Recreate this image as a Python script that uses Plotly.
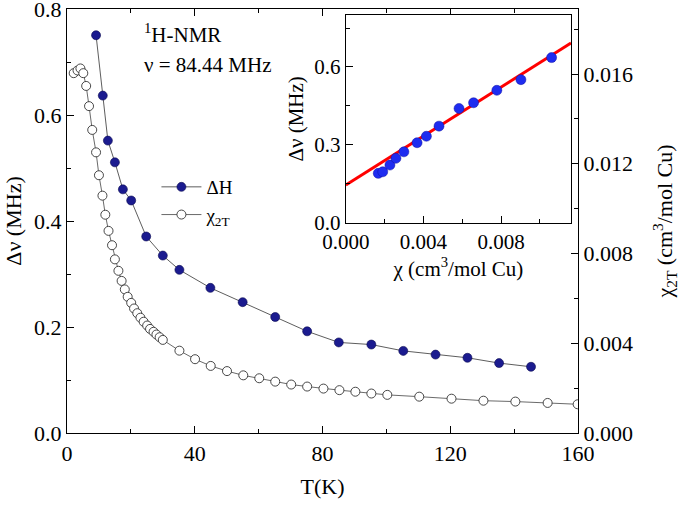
import plotly.graph_objects as go

# Main panel: linewidth ΔH vs T
T_dH = [9.1, 11.2, 12.8, 15.0, 17.5, 20.1, 24.8, 30.0, 35.2, 44.9, 55.0, 65.2, 75.2,
        85.1, 95.3, 105.3, 115.4, 125.4, 135.3, 145.3]
dH = [0.751, 0.637, 0.552, 0.511, 0.460, 0.439, 0.371, 0.335, 0.308, 0.274, 0.247,
      0.219, 0.192, 0.171, 0.167, 0.155, 0.148, 0.142, 0.132, 0.125]

# Main panel: susceptibility chi_2T vs T (right axis)
T_chi = [2.1, 3.3, 4.2, 5.1, 6.0, 6.9, 7.9, 9.1, 10.0, 11.1, 12.0, 13.0, 14.1, 15.0,
         16.1, 17.1, 18.1, 19.0, 20.1, 21.0, 22.0, 23.0, 24.0, 25.1, 26.0, 27.1, 28.0,
         29.0, 30.0, 35.2, 40.1, 45.0, 50.1, 55.2, 60.2, 65.2, 70.2, 75.2, 80.3, 85.3,
         90.3, 95.3, 100.3, 110.3, 120.4, 130.4, 140.4, 150.5, 159.9]
chi = [0.01604, 0.01616, 0.01625, 0.01604, 0.01547, 0.01457, 0.01351, 0.01251, 0.01149,
       0.01058, 0.00973, 0.00901, 0.00837, 0.00774, 0.00723, 0.00678, 0.00640, 0.00607,
       0.00580, 0.00555, 0.00534, 0.00514, 0.00496, 0.00479, 0.00464, 0.00451, 0.00439,
       0.00427, 0.00415, 0.00367, 0.00329, 0.00299, 0.00276, 0.00257, 0.00244, 0.00229,
       0.00216, 0.00207, 0.00198, 0.00191, 0.00184, 0.00176, 0.00170, 0.00162, 0.00153,
       0.00144, 0.00140, 0.00134, 0.00128]

# Inset: Δν vs χ
inset_chi = [0.00167, 0.0019, 0.00227, 0.00258, 0.00299, 0.00367, 0.00415, 0.0048,
             0.00583, 0.00658, 0.00778, 0.00902, 0.0106]
inset_dnu = [0.190, 0.196, 0.222, 0.248, 0.273, 0.308, 0.333, 0.372, 0.440, 0.462,
             0.510, 0.551, 0.636]
fit_chi = [0.0, 0.0116]
fit_dnu = [0.145, 0.692]

FONT = "Liberation Serif"
navy = "#1b1b8f"

fig = go.Figure()

fig.add_trace(go.Scatter(
    x=T_dH, y=dH, mode="lines+markers", name="ΔH",
    line=dict(color="#333333", width=0.8),
    marker=dict(symbol="circle", size=9, color=navy, line=dict(color="#0a0a50", width=0.6)),
    xaxis="x", yaxis="y"))

fig.add_trace(go.Scatter(
    x=T_chi, y=chi, mode="lines+markers", name="χ<sub>2T</sub>",
    line=dict(color="#444444", width=0.8),
    marker=dict(symbol="circle", size=9, color="white", line=dict(color="#333333", width=0.9)),
    xaxis="x", yaxis="y2"))

fig.add_trace(go.Scatter(
    x=fit_chi, y=fit_dnu, mode="lines", showlegend=False,
    line=dict(color="#ff0000", width=3), xaxis="x3", yaxis="y3"))

fig.add_trace(go.Scatter(
    x=inset_chi, y=inset_dnu, mode="markers", showlegend=False,
    marker=dict(symbol="circle", size=10, color="#1e2cf0", line=dict(color="#1010a0", width=0.5)),
    xaxis="x3", yaxis="y3"))


def ax(size):
    return dict(showline=True, linecolor="black", linewidth=1.2, ticks="inside",
                ticklen=7, tickwidth=1.2, tickcolor="black", showgrid=False,
                zeroline=False, automargin=False, ticklabeloverflow="allow",
                tickfont=dict(family=FONT, size=size, color="black"))


fig.update_layout(
    width=685, height=506,
    margin=dict(l=67, r=107, t=9, b=73),
    paper_bgcolor="white", plot_bgcolor="white",
    font=dict(family=FONT, size=20, color="black"),
    xaxis=dict(domain=[0, 1], range=[0, 160.01], dtick=40, mirror="ticks",
               minor=dict(ticks="inside", dtick=20, ticklen=4, tickcolor="black"),
               title=dict(text="T(K)", font=dict(family=FONT, size=22), standoff=14),
               **ax(22)),
    yaxis=dict(range=[0, 0.8005], dtick=0.2, tickformat=".1f",
               minor=dict(ticks="inside", dtick=0.1, ticklen=4, tickcolor="black"),
               title=dict(text="Δν (MHz)", font=dict(family=FONT, size=22), standoff=6),
               **ax(22)),
    yaxis2=dict(overlaying="y", side="right", range=[0, 0.0189], dtick=0.004,
                tickformat=".3f",
                minor=dict(ticks="inside", dtick=0.002, ticklen=4, tickcolor="black"),
                title=dict(text="χ<sub>2T</sub> (cm<sup>3</sup>/mol Cu)",
                           font=dict(family=FONT, size=22), standoff=24),
                **ax(22)),
    xaxis3=dict(domain=[0.5457, 0.9863], anchor="y3", range=[0, 0.0116], dtick=0.004,
                tickformat=".3f", mirror=True,
                minor=dict(ticks="inside", dtick=0.002, ticklen=4, tickcolor="black"),
                title=dict(text="χ (cm<sup>3</sup>/mol Cu)", font=dict(family=FONT, size=21),
                           standoff=8),
                **ax(21)),
    yaxis3=dict(domain=[0.496, 0.9858], anchor="x3", range=[0, 0.8], dtick=0.3,
                tickformat=".1f", mirror=True,
                minor=dict(ticks="inside", dtick=0.15, ticklen=4, tickcolor="black"),
                title=dict(text="Δν (MHz)", font=dict(family=FONT, size=21), standoff=4),
                **ax(21)),
    legend=dict(x=0.175, y=0.625, xanchor="left", yanchor="top",
                bgcolor="rgba(0,0,0,0)", font=dict(family=FONT, size=19),
                itemwidth=40, tracegroupgap=0),
    annotations=[
        dict(text="<sup>1</sup>H-NMR", x=23.5, y=0.755, xref="x", yref="y",
             xanchor="left", yanchor="middle", showarrow=False,
             font=dict(family=FONT, size=21)),
        dict(text="ν = 84.44 MHz", x=23.5, y=0.695, xref="x", yref="y",
             xanchor="left", yanchor="middle", showarrow=False,
             font=dict(family=FONT, size=21)),
    ],
)

fig.write_html("out.html", config={"displayModeBar": False},
               post_script="document.body.style.margin='0';")
